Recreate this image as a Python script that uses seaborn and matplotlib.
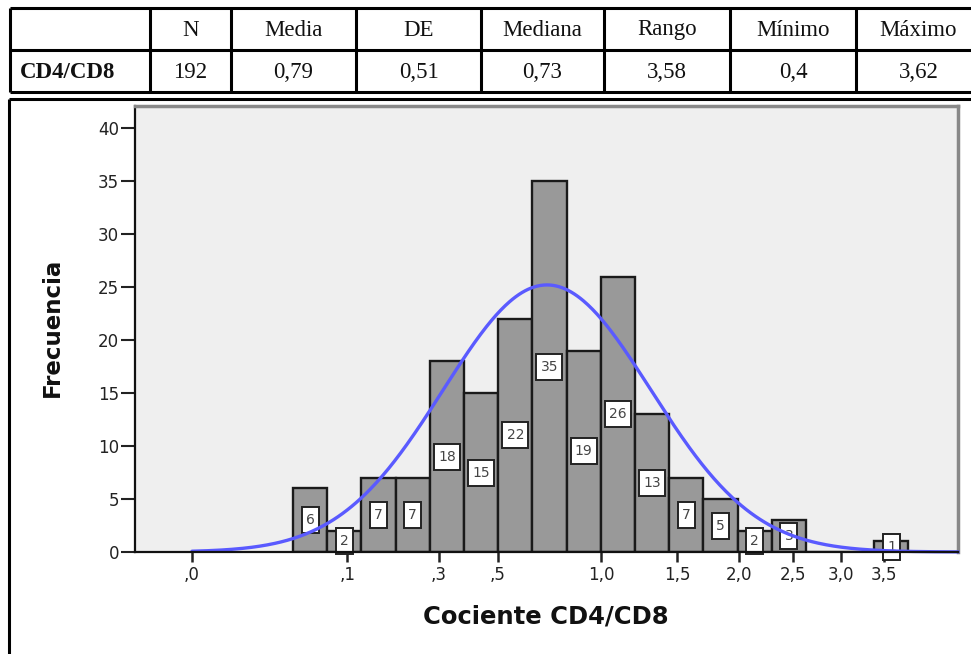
import numpy as np
import pandas as pd
import matplotlib
matplotlib.use("Agg")
import matplotlib.pyplot as plt
from matplotlib.patches import Rectangle
from matplotlib.transforms import ScaledTranslation
import seaborn as sns

# ---------------- data ----------------
table_headers = ["", "N", "Media", "DE", "Mediana", "Rango", "Mínimo", "Máximo"]
table_row = ["CD4/CD8", "192", "0,79", "0,51", "0,73", "3,58", "0,4", "3,62"]

# histogram counts (bins on a power-transformed axis, exponent below)
counts = [6, 2, 7, 7, 18, 15, 22, 35, 19, 26, 13, 7, 5, 2, 3, 0, 0, 1]
power_exp = 0.42          # axis transform: t = value ** power_exp
bin_start = 0.247         # first bin edge (transformed units)
bin_width = 0.0836        # bin width (transformed units)

# fitted normal curve (transformed units)
n_total = 192
curve_mean = 0.868
curve_sd = 0.254

xtick_values = [0.0, 0.1, 0.3, 0.5, 1.0, 1.5, 2.0, 2.5, 3.0, 3.5]
xtick_labels = [",0", ",1", ",3", ",5", "1,0", "1,5", "2,0", "2,5", "3,0", "3,5"]
ytick_values = [0, 5, 10, 15, 20, 25, 30, 35, 40]

# ---------------- figure ----------------
sns.set_style("white")
plt.rcParams["font.family"] = ["DejaVu Sans"]

W, H = 971, 654
fig = plt.figure(figsize=(W / 100, H / 100), dpi=100)

bg = fig.add_axes([0, 0, 1, 1])
bg.set_xlim(0, W)
bg.set_ylim(H, 0)
bg.axis("off")

# table
tbl_top, tbl_mid, tbl_bot = 8, 50, 92
col_x = [10, 150, 231, 356, 481, 604, 730, 856, 981]
lw_t = 2.2
for yy in (tbl_top, tbl_mid, tbl_bot):
    bg.plot([col_x[0], W + 5], [yy, yy], color="black", lw=lw_t, solid_capstyle="butt")
for xx in col_x:
    bg.plot([xx, xx], [tbl_top, tbl_bot], color="black", lw=lw_t, solid_capstyle="butt")
for i, (h, v) in enumerate(zip(table_headers, table_row)):
    cx = (col_x[i] + col_x[i + 1]) / 2
    if h:
        bg.text(cx, (tbl_top + tbl_mid) / 2 + 1, h, ha="center", va="center",
                fontsize=16.5, family="Liberation Serif", color="#111111")
    if i == 0:
        bg.text(col_x[0] + 10, (tbl_mid + tbl_bot) / 2 + 1, v, ha="left", va="center",
                fontsize=16.5, family="Liberation Serif", fontweight="bold", color="#111111")
    else:
        bg.text(cx, (tbl_mid + tbl_bot) / 2 + 1, v, ha="center", va="center",
                fontsize=16.5, family="Liberation Serif", color="#111111")

# chart frame
bg.plot([9, W + 5], [99, 99], color="black", lw=2.2, solid_capstyle="butt")
bg.plot([9, 9], [99, H + 5], color="black", lw=2.2, solid_capstyle="butt")

# axis titles
bg.text(52, 327, "Frecuencia", rotation=90, ha="center", va="center",
        fontsize=16.5, fontweight="bold", color="#111111")
bg.text(546, 617, "Cociente CD4/CD8", ha="center", va="center",
        fontsize=17.5, fontweight="bold", color="#111111")

# main axes
ax_l, ax_r, ax_t, ax_b = 135, 958, 106, 552
ax = fig.add_axes([ax_l / W, 1 - ax_b / H, (ax_r - ax_l) / W, (ax_b - ax_t) / H])
ax.set_facecolor("#efefef")

edges = bin_start + bin_width * np.arange(len(counts) + 1)
centers = (edges[:-1] + edges[1:]) / 2
hist_df = pd.DataFrame({"t": centers, "n": counts})
sns.histplot(data=hist_df, x="t", weights="n", bins=list(edges), ax=ax, color="#999999",
             edgecolor="#1a1a1a", linewidth=1.7, alpha=1, zorder=2)

# count labels in white boxes (box size fixed in inches, centred at half bar height)
for c, n in zip(centers, counts):
    if n > 0:
        bw_in = 0.17 if n < 10 else 0.26
        bh_in = 0.26
        tr = fig.dpi_scale_trans + ScaledTranslation(c, n / 2, ax.transData)
        ax.add_patch(Rectangle((-bw_in / 2, -bh_in / 2), bw_in, bh_in, transform=tr,
                               facecolor="white", edgecolor="#222222", lw=1.4,
                               zorder=3, clip_on=False))
        ax.text(c, n / 2, str(n), ha="center", va="center", fontsize=10,
                color="#444444", zorder=3.5)

px_per_unit = 409.0
x0_px = 192.0
xlim = ((ax_l - x0_px) / px_per_unit, (ax_r - x0_px) / px_per_unit)
tt = np.linspace(0, xlim[1], 500)
dens = n_total * bin_width / (curve_sd * np.sqrt(2 * np.pi)) * np.exp(-0.5 * ((tt - curve_mean) / curve_sd) ** 2)
ax.plot(tt, dens, color="#5a5aff", lw=2.4, zorder=4, clip_on=False)

ax.set_xlim(*xlim)
ax.set_ylim(0, 42.1)
ax.set_xticks([v ** power_exp for v in xtick_values])
ax.set_xticklabels(xtick_labels)
ax.set_yticks(ytick_values)
ax.set_xlabel("")
ax.set_ylabel("")
ax.tick_params(axis="y", direction="out", length=10, width=1.5, pad=1.5,
               labelsize=12, colors="#222222", left=True)
ax.tick_params(axis="x", direction="out", length=7, width=1.8, pad=3,
               labelsize=12, colors="#222222", bottom=True)
for side in ("left", "bottom"):
    ax.spines[side].set_color("#111111")
    ax.spines[side].set_linewidth(1.6)
for side in ("top", "right"):
    ax.spines[side].set_color("#888888")
    ax.spines[side].set_linewidth(2.5)
ax.spines["bottom"].set_zorder(5)
ax.grid(False)

fig.savefig("out.png", dpi=100)
